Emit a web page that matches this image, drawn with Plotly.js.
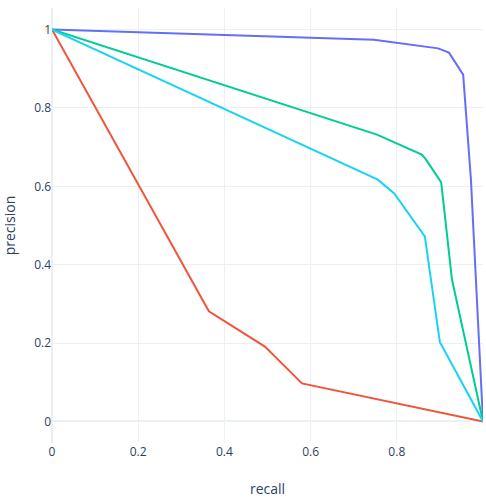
<!DOCTYPE html>
<html>
<head>
<meta charset="utf-8">
<script src="https://cdn.plot.ly/plotly-3.0.1.min.js"></script>
<style>
  html, body { margin: 0; padding: 0; background: #fff; }
  #chart { width: 486px; height: 498px; }
</style>
</head>
<body>
<div id="chart"></div>
<script>
// Precision-recall curves
const recallBlue = [0, 0.747, 0.896, 0.921, 0.954, 0.972, 1];
const precisionBlue = [1, 0.974, 0.952, 0.941, 0.885, 0.617, 0];

const recallRed = [0, 0.364, 0.494, 0.580, 1];
const precisionRed = [1, 0.281, 0.191, 0.097, 0];

const recallGreen = [0, 0.754, 0.858, 0.868, 0.903, 0.928, 1];
const precisionGreen = [1, 0.732, 0.681, 0.668, 0.610, 0.362, 0];

const recallCyan = [0, 0.756, 0.794, 0.865, 0.900, 1];
const precisionCyan = [1, 0.617, 0.582, 0.472, 0.202, 0];

const seriesNames = ["curve 1", "curve 2", "curve 3", "curve 4"];
const seriesColors = ["#636efa", "#EF553B", "#00cc96", "#19d3f3"];

const xs = [recallBlue, recallRed, recallGreen, recallCyan];
const ys = [precisionBlue, precisionRed, precisionGreen, precisionCyan];

const traces = xs.map((x, i) => ({
  type: "scatter",
  mode: "lines",
  x: x,
  y: ys[i],
  name: seriesNames[i],
  line: { color: seriesColors[i], width: 2 }
}));

const layout = {
  width: 486,
  height: 498,
  margin: { l: 52, r: 3, t: 8, b: 55 },
  paper_bgcolor: "#ffffff",
  plot_bgcolor: "#ffffff",
  showlegend: false,
  font: { family: "Open Sans, verdana, arial, sans-serif", size: 12, color: "#2a3f5f" },
  xaxis: {
    title: { text: "recall", font: { size: 14 } },
    range: [0, 1],
    dtick: 0.2,
    gridcolor: "#EBF0F8",
    zerolinecolor: "#EBF0F8",
    zerolinewidth: 2,
    showline: false,
    ticks: ""
  },
  yaxis: {
    title: { text: "precision", font: { size: 14 } },
    range: [-0.055, 1.055],
    dtick: 0.2,
    gridcolor: "#EBF0F8",
    zerolinecolor: "#EBF0F8",
    zerolinewidth: 2,
    showline: false,
    ticks: ""
  }
};

Plotly.newPlot("chart", traces, layout, { displayModeBar: false, staticPlot: true });
</script>
</body>
</html>
